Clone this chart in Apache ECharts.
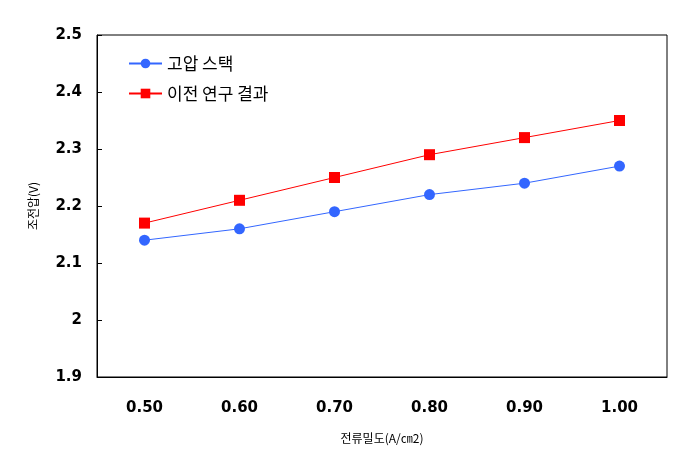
<!DOCTYPE html>
<html>
<head>
<meta charset="utf-8">
<script src="https://cdn.jsdelivr.net/npm/echarts@6/dist/echarts.min.js"></script>
<style>
  html, body { margin: 0; padding: 0; background: #fff; }
  #chart { width: 696px; height: 466px; }
</style>
</head>
<body>
<div id="chart"></div>
<script>
// 데이터
const categories = ['0.50', '0.60', '0.70', '0.80', '0.90', '1.00']
const highPressure = [2.14, 2.16, 2.19, 2.22, 2.24, 2.27]
const previousStudy = [2.17, 2.21, 2.25, 2.29, 2.32, 2.35]

const mychart = echarts.init(document.getElementById('chart'))
const tickFont = { fontFamily: 'DejaVu Sans', fontWeight: 'bold', fontSize: 15, color: '#000' }

mychart.setOption({
  animation: false,
  grid: { left: 97, right: 29, top: 35, bottom: 89, show: true, borderColor: '#000', borderWidth: 1 },
  legend: {
    left: 128, top: 55, orient: 'vertical', itemGap: 13, padding: 0,
    itemWidth: 33, itemHeight: 12,
    textStyle: { fontFamily: 'Noto Sans CJK KR', fontSize: 17, color: '#000' },
    data: ['고압 스택', '이전 연구 결과'],
  },
  xAxis: {
    type: 'category',
    boundaryGap: true,
    data: categories,
    name: '전류밀도(A/㎝2)',
    nameLocation: 'middle',
    nameGap: 55,
    nameTextStyle: { fontFamily: 'Noto Sans CJK KR', fontSize: 12, color: '#000' },
    axisLine: { lineStyle: { color: '#000' } },
    axisTick: { inside: true, length: 5, lineStyle: { color: '#000' } },
    axisLabel: { ...tickFont, margin: 24 },
  },
  yAxis: {
    type: 'value',
    min: 1.9, max: 2.5, interval: 0.1,
    name: '조전압(V)',
    nameLocation: 'middle',
    nameGap: 58,
    nameTextStyle: { fontFamily: 'Noto Sans CJK KR', fontSize: 12, color: '#000' },
    axisLine: { show: true, lineStyle: { color: '#000' } },
    axisTick: { show: true, inside: true, length: 5, lineStyle: { color: '#000' } },
    splitLine: { show: false },
    axisLabel: { ...tickFont, margin: 15, formatter: v => String(Math.round(v * 10) / 10) },
  },
  series: [
    {
      name: '고압 스택', type: 'line', data: highPressure,
      symbol: 'circle', symbolSize: 11,
      itemStyle: { color: '#3366FF' },
      lineStyle: { color: '#3366FF', width: 1 },
    },
    {
      name: '이전 연구 결과', type: 'line', data: previousStudy,
      symbol: 'rect', symbolSize: 11,
      itemStyle: { color: '#FF0000' },
      lineStyle: { color: '#FF0000', width: 1 },
    },
  ],
})
</script>
</body>
</html>
